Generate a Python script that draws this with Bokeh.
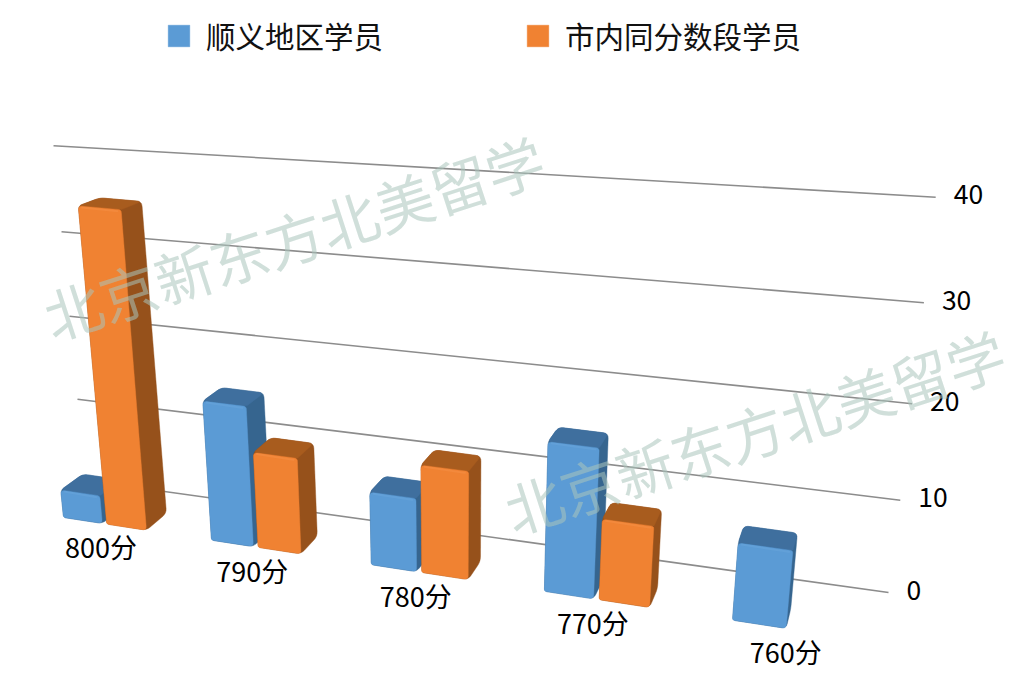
from bokeh.plotting import figure
from bokeh.models import Range1d, Legend, LegendItem
from bokeh.embed import file_html
from bokeh.resources import INLINE
from bokeh.core.properties import value

categories = ["800分", "790分", "780分", "770分", "760分"]
shunyi = [3, 14.8, 7.5, 15, 7.5]
citywide = [34.5, 10, 11, 8, 0]
ticks = [0, 10, 20, 30, 40]
series_names = ["顺义地区学员", "市内同分数段学员"]
watermark = "北京新东方北美留学"
FONT = "Noto Sans CJK SC"

BLUE = dict(front="#5b9bd5", light="#69a5dc", top="#3f6f9e", side0="#4a80b3", side1="#36658f", side2="#3d6d9b")
ORANGE = dict(front="#f08232", light="#f58f45", top="#a85c1e", side0="#c56c26", side1="#96511b", side2="#a35a1e")


def xpos(s):
    return 63 + 142.5 * s / (1 - 0.037 * s)


def base_y(x):
    return 517 + 0.1535 * (x - 63)


def F(s, v):
    x0 = xpos(s)
    h = v * (9.15 + 0.0017 * (x0 - 63))
    lean = -0.09 + 0.00026 * (x0 - 104)
    return (x0 + lean * h, base_y(x0) - h)


def B(s, v):
    x, y = F(s, v)
    h = base_y(xpos(s)) - y
    return (x + 23.5 - 0.024 * x, y - (18 + 0.004 * (x - 400) - 0.027 * h))


def grid_left(v):
    return (85 - 0.8 * v, 480 - 8.05 * v - 0.008 * v * v)


def grid_right(v):
    return (888 + 1.18 * v, 592 - 9.0 * v - 0.022 * v * v)


def round_poly(pts, radii, n=5):
    out = []
    m = len(pts)
    for i in range(m):
        p, a, c = pts[i - 1], pts[i], pts[(i + 1) % m]
        r = radii[i]
        def toward(q):
            d = ((q[0] - a[0]) ** 2 + (q[1] - a[1]) ** 2) ** 0.5 or 1
            k = min(r, d * 0.45) / d
            return (a[0] + (q[0] - a[0]) * k, a[1] + (q[1] - a[1]) * k)
        s, e = toward(p), toward(c)
        for j in range(n + 1):
            t = j / n
            out.append(((1 - t) ** 2 * s[0] + 2 * t * (1 - t) * a[0] + t * t * e[0],
                        (1 - t) ** 2 * s[1] + 2 * t * (1 - t) * a[1] + t * t * e[1]))
    return out


def clip(poly, a, b):
    """keep the part of poly on the side of a->b with cross >= 0"""
    res = []
    side = lambda q: (b[0] - a[0]) * (q[1] - a[1]) - (b[1] - a[1]) * (q[0] - a[0])
    for i in range(len(poly)):
        c, d = poly[i - 1], poly[i]
        sc, sd = side(c), side(d)
        if sc * sd < 0:
            t = sc / (sc - sd)
            res.append((c[0] + (d[0] - c[0]) * t, c[1] + (d[1] - c[1]) * t))
        if sd >= 0:
            res.append(d)
    return res


def hex2(c):
    return [int(c[i:i + 2], 16) for i in (1, 3, 5)]


def mix(a, b, t):
    x, y = hex2(a), hex2(b)
    return "#%02x%02x%02x" % tuple(round(x[i] + (y[i] - x[i]) * t) for i in range(3))


p = figure(width=1020, height=680, output_backend="svg", toolbar_location=None,
           x_range=Range1d(0, 1020), y_range=Range1d(680, 0), min_border=0)
p.axis.visible = False
p.grid.visible = False
p.outline_line_color = None
p.background_fill_color = "white"


def draw(poly, color, alpha=1.0):
    return p.patch([q[0] for q in poly], [q[1] for q in poly], fill_color=color, line_color=color,
                   line_width=0.4, fill_alpha=alpha, line_alpha=alpha)


def strips(poly, q0, q1, q2, q3, colorfn, n=10):
    """poly split along the q0->q1 edge (q3 above q0, q2 above q1)"""
    for i in range(n):
        u0, u1 = i / n, (i + 1) / n
        lo = (q0[0] + (q1[0] - q0[0]) * u0, q0[1] + (q1[1] - q0[1]) * u0)
        hi = (q3[0] + (q2[0] - q3[0]) * u0, q3[1] + (q2[1] - q3[1]) * u0)
        lo2 = (q0[0] + (q1[0] - q0[0]) * u1, q0[1] + (q1[1] - q0[1]) * u1)
        hi2 = (q3[0] + (q2[0] - q3[0]) * u1, q3[1] + (q2[1] - q3[1]) * u1)
        sub = clip(clip(poly, hi, lo), lo2, hi2)
        if len(sub) > 2:
            draw(sub, colorfn((u0 + u1) / 2))


def bar(s0, s1, v, pal):
    f0, f1, f2, f3 = F(s0, 0), F(s1, 0), F(s1, v), F(s0, v)
    b1, b2, b3 = B(s1, 0), B(s1, v), B(s0, v)
    draw(round_poly([f0, f1, b1, b2, b3, f3], [3, 5, 5, 5, 5, 4]), pal["side1"])
    side = round_poly([f1, b1, b2, f2], [5, 5, 5, 1])

    def side_col(u):
        if u < 0.4:
            return mix(pal["side0"], pal["side1"], u / 0.4)
        if u > 0.85:
            return mix(pal["side1"], pal["side2"], (u - 0.85) / 0.15)
        return pal["side1"]

    strips(side, f1, b1, b2, f2, side_col, n=8)
    draw(round_poly([f3, f2, b2, b3], [4, 1, 5, 5]), pal["top"])
    face = round_poly([f0, f1, f2, f3], [2, 4, 3, 4])
    base = draw(face, pal["front"])

    def front_col(u):
        if u < 0.1:
            return mix(pal["light"], pal["front"], u / 0.1)
        if u > 0.9:
            return mix(pal["front"], pal["light"], (u - 0.9) / 0.1)
        return pal["front"]

    strips(face, f0, f1, f2, f3, front_col, n=10)
    p.line([f3[0] + 3, f2[0] - 3], [f3[1] + 1.5, f2[1] + 1.5], line_color=pal["light"], line_width=2, line_alpha=0.5)
    return base


# gridlines, drawn behind the bars
for t in ticks:
    (lx, ly), (rx, ry) = grid_left(t), grid_right(t)
    p.line([lx, rx], [ly, ry], line_color="#8c8c8c", line_width=1.6)
    p.text([rx + 18], [ry - 3], text=[str(t)], text_font=value(FONT), text_font_size="26.5px",
           text_color="black", text_align="left", text_baseline="middle")

first = {}
W = 0.27
for i, cat in enumerate(categories):
    r = bar(i, i + W, shunyi[i], BLUE)
    first[0] = first.get(0) or r
    if citywide[i] > 0:
        r = bar(i + W + 0.03, i + 2 * W + 0.03, citywide[i], ORANGE)
        first[1] = first.get(1) or r
    cx = xpos(i + W + 0.015)
    p.text([cx - 3.5], [base_y(cx) + 23], text=[cat], text_font=value(FONT), text_font_size="27px",
           text_color="black", text_align="center", text_baseline="middle")

for wx, wy in [(293, 236), (754, 430)]:
    p.text([wx], [wy], text=[watermark], text_font=value(FONT), text_font_size="58px",
           text_color="#a9c4bb", text_alpha=0.55, text_align="center", text_baseline="middle",
           angle=0.315, angle_units="rad")

legend = Legend(items=[LegendItem(label=series_names[0], renderers=[first[0]]),
                       LegendItem(label=series_names[1], renderers=[first[1]])],
                orientation="horizontal", location=(165, 624), background_fill_alpha=0,
                border_line_color=None, glyph_width=27, glyph_height=27, label_standoff=14,
                spacing=141, label_text_font=FONT, label_text_font_size="29.5px",
                label_text_color="#111111", margin=0, padding=0)
p.add_layout(legend, "center")

open("out.html", "w").write(file_html(p, INLINE))
